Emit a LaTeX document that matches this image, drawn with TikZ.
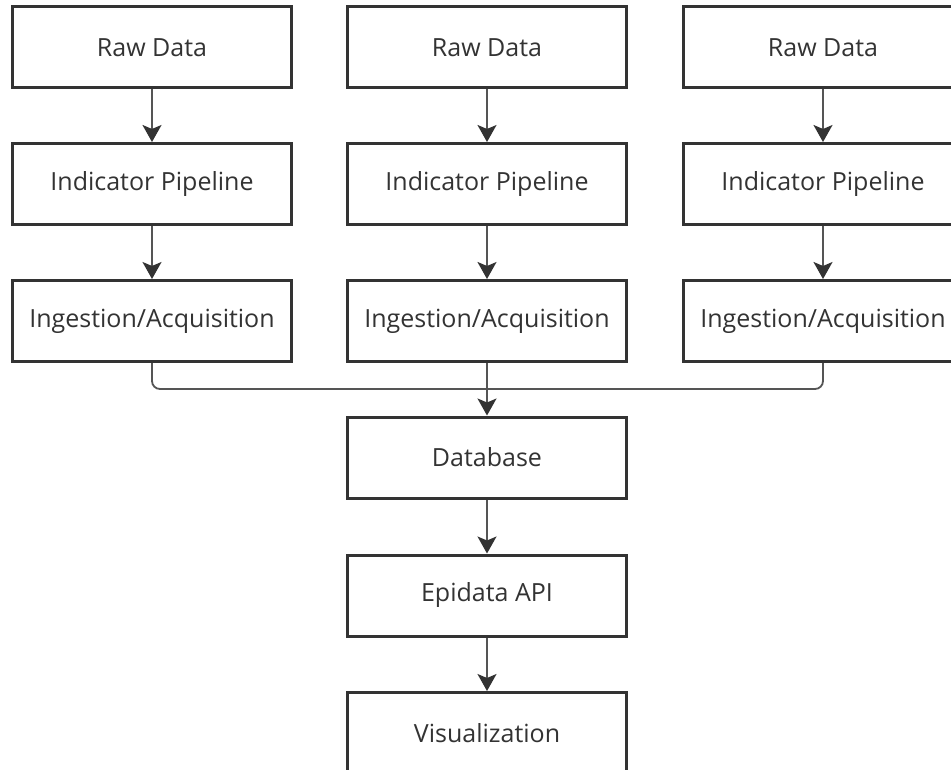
\documentclass[tikz,border=0pt]{standalone}
\usepackage{fontspec}
\setmainfont{Open Sans}
\usetikzlibrary{arrows.meta}
\definecolor{boxline}{RGB}{51, 51, 51}
\definecolor{linkline}{RGB}{85, 85, 85}

\begin{document}
\begin{tikzpicture}[x=1pt,y=-1pt]

\tikzstyle{stage} = [draw=boxline, line width=3, fill=white, text=boxline,
minimum width=279, minimum height=81, inner sep=0, font=\fontsize{25}{29}\selectfont]
\tikzstyle{link} = [draw=linkline, line width=1.8,
-{Stealth[length=17pt, width=19pt, inset=4pt, color=boxline]}]
\tikzstyle{merge} = [draw=linkline, line width=1.8, rounded corners=8]

\useasboundingbox[fill=white] (0,0) rectangle (951,770);

% sources
\node [stage] (raw1) at (152,47.5) {Raw Data};
\node [stage] (raw2) at (487,47.5) {Raw Data};
\node [stage] (raw3) at (823,47.5) {Raw Data};

\node [stage] (ind1) at (152,184) {Indicator Pipeline};
\node [stage] (ind2) at (487,184) {Indicator Pipeline};
\node [stage] (ind3) at (823,184) {Indicator Pipeline};

\node [stage] (ing1) at (152,321) {Ingestion/Acquisition};
\node [stage] (ing2) at (487,321) {Ingestion/Acquisition};
\node [stage] (ing3) at (823,321) {Ingestion/Acquisition};

% main chain
\node [stage] (db) at (487,457.5) {Database};
\node [stage] (api) at (487,595.5) {Epidata API};
\node [stage] (vis) at (487,733) {Visualization};

\coordinate (join) at (487,389);

\draw [link] (raw1) -- (ind1);
\draw [link] (raw2) -- (ind2);
\draw [link] (raw3) -- (ind3);

\draw [link] (ind1) -- (ing1);
\draw [link] (ind2) -- (ing2);
\draw [link] (ind3) -- (ing3);

\draw [merge] (ing1.south) |- (join);
\draw [merge] (ing3.south) |- (join);
\draw [link] (ing2) -- (db);

\draw [link] (db) -- (api);
\draw [link] (api) -- (vis);

\end{tikzpicture}
\end{document}
